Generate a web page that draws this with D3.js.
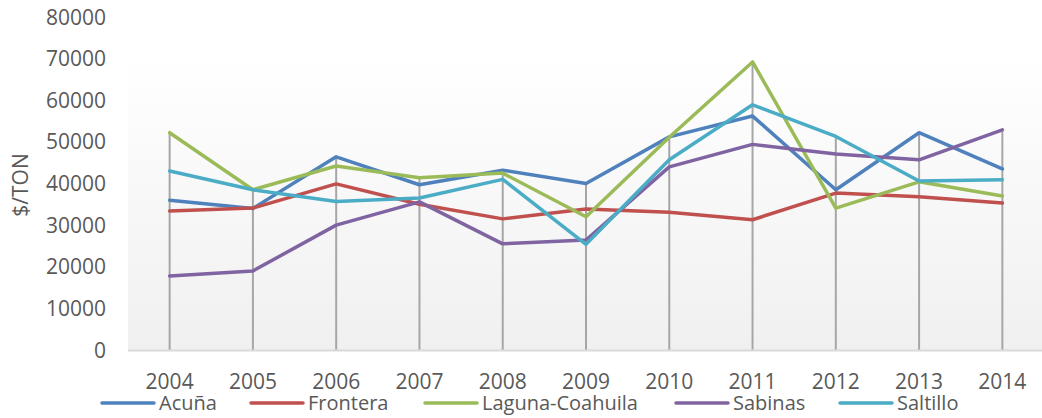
<!DOCTYPE html>
<html><head><meta charset="utf-8">
<script src="https://cdn.jsdelivr.net/npm/d3@7"></script>
<style>body{margin:0;background:#fff}svg{display:block}text{font-family:"Open Sans",sans-serif;fill:#595959}</style>
</head><body><svg id="c" width="1042" height="418"></svg>
<script>
const years = ["2004","2005","2006","2007","2008","2009","2010","2011","2012","2013","2014"];
const yTicks = [0,10000,20000,30000,40000,50000,60000,70000,80000];
const seriesNames = ["Acuña","Frontera","Laguna-Coahuila","Sabinas","Saltillo"];
const colors = ["#4f81bd","#c0504d","#9bbb59","#8064a2","#4bacc6"];
const acuna    = [36000,34000,46400,39700,43200,40000,51200,56200,38500,52200,43500];
const frontera = [33400,34100,39900,35000,31500,33900,33100,31300,37700,36800,35300];
const laguna   = [52200,38500,44200,41400,42500,32000,51100,69200,34100,40400,37000];
const sabinas  = [17800,19000,30000,35600,25500,26400,44000,49400,47100,45700,52900];
const saltillo = [43000,38500,35700,36500,41000,25400,45700,58900,51300,40600,40900];
const allSeries = [acuna,frontera,laguna,sabinas,saltillo];

const svg = d3.select("#c");
const L=128, R=1044, T=17, B=350;
const x = d3.scaleBand().domain(years).range([L,R]);
const y = d3.scaleLinear().domain([0,80000]).range([B,T]);
const cx = d => x(d)+x.bandwidth()/2;

const defs = svg.append("defs");
const g = defs.append("linearGradient").attr("id","bg").attr("x1",0).attr("y1",0).attr("x2",0).attr("y2",1);
g.append("stop").attr("offset","0%").attr("stop-color","#ffffff");
g.append("stop").attr("offset","100%").attr("stop-color","#f0f0f0");
svg.append("rect").attr("x",L).attr("y",T+40).attr("width",R-L).attr("height",B-T-40).attr("fill","url(#bg)");

// y tick labels
svg.append("g").selectAll("text").data(yTicks).join("text")
  .attr("x",106).attr("y",d=>y(d)).attr("dy","0.36em").attr("text-anchor","end")
  .attr("font-size",21).text(d=>d);

// x tick labels
svg.append("g").selectAll("text").data(years).join("text")
  .attr("x",d=>cx(d)).attr("y",381).attr("dy","0.36em").attr("text-anchor","middle")
  .attr("font-size",21).text(d=>d);

// axis title
svg.append("text").attr("transform","translate(20,185) rotate(-90)").attr("text-anchor","middle")
  .attr("dy","0.36em").attr("font-size",21).text("$/TON");

// drop lines
svg.append("g").selectAll("line").data(years).join("line")
  .attr("x1",d=>cx(d)).attr("x2",d=>cx(d))
  .attr("y1",(d,i)=>y(d3.max(allSeries,s=>s[i]))).attr("y2",B)
  .attr("stroke","#a6a6a6").attr("stroke-width",2);

// axis line
svg.append("line").attr("x1",L).attr("x2",R).attr("y1",B+0.5).attr("y2",B+0.5)
  .attr("stroke","#d9d9d9").attr("stroke-width",2);

const line = d3.line().x((d,i)=>cx(years[i])).y(d=>y(d));
svg.append("g").selectAll("path").data(allSeries).join("path")
  .attr("d",line).attr("fill","none").attr("stroke",(d,i)=>colors[i])
  .attr("stroke-width",3.5).attr("stroke-linejoin","round").attr("stroke-linecap","round");

// legend
const legX = [102,251,425,676,840];
const lg = svg.append("g").selectAll("g").data(seriesNames).join("g")
  .attr("transform",(d,i)=>`translate(${legX[i]},403)`);
lg.append("line").attr("x1",0).attr("x2",52).attr("stroke",(d,i)=>colors[i])
  .attr("stroke-width",3.5).attr("stroke-linecap","round");
lg.append("text").attr("x",57).attr("dy","0.36em").attr("font-size",20).text(d=>d);
</script></body></html>
